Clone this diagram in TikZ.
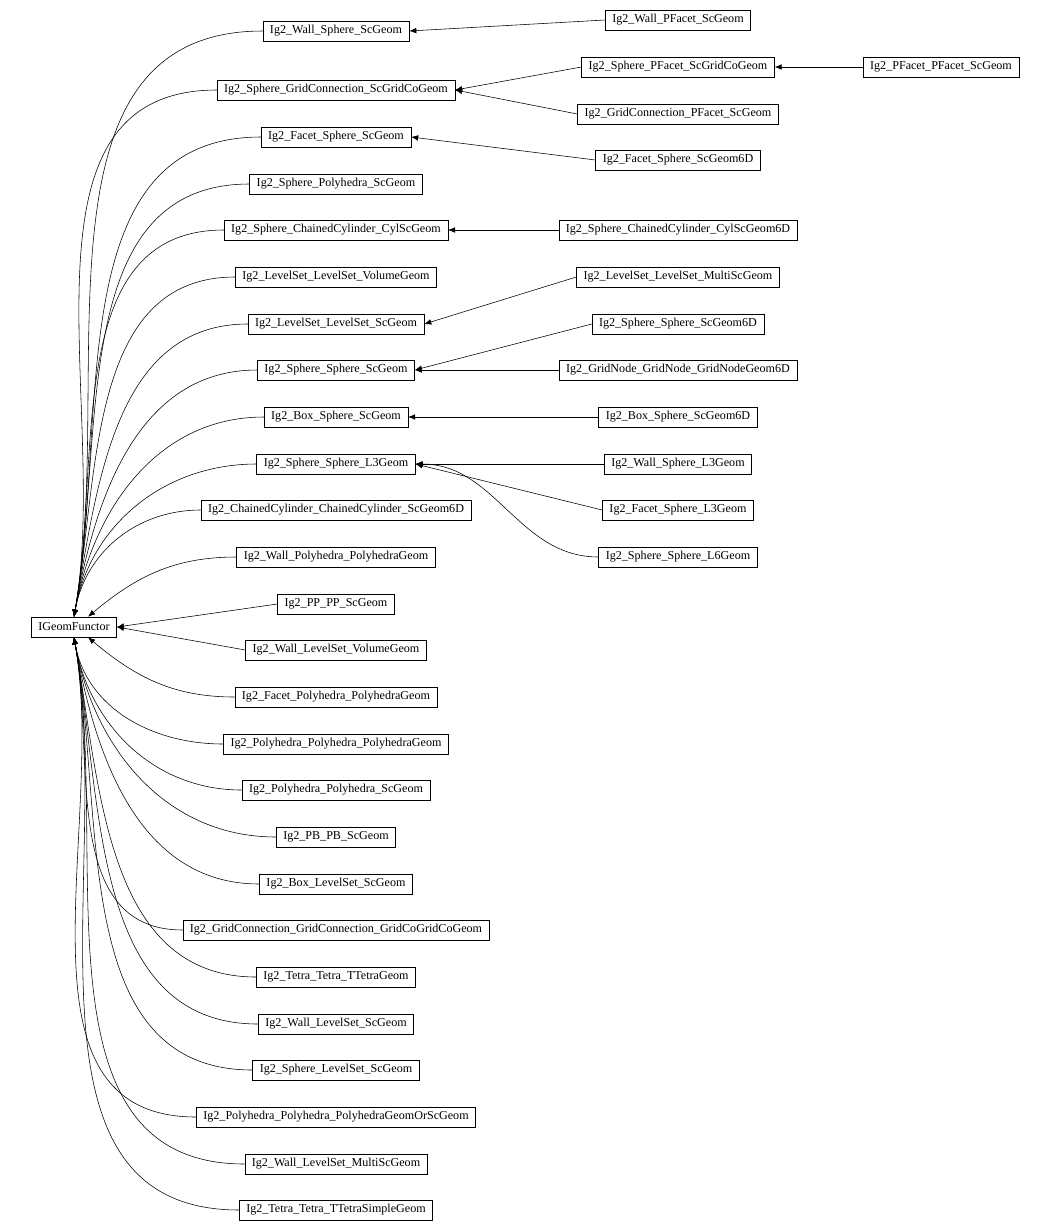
\documentclass[tikz,border=0pt]{standalone}
\usepackage{fontspec}
\setmainfont{Liberation Serif}
\usetikzlibrary{arrows.meta}
\tikzset{
    cls/.style={draw, rectangle, inner xsep=5pt, inner ysep=0pt, minimum height=0.5cm, font=\fontsize{8.6}{10}\selectfont},
    arr/.style={-{Latex[length=5pt,width=4pt]}, black}
}
\begin{document}
\begin{tikzpicture}[x=0.025cm, y=-0.025cm]
    \useasboundingbox (0,0) rectangle (1052,1232);
    \node[cls] (root) at (74,627) {IGeomFunctor};
    % first column
    \foreach \i/\y/\t in {
        1/31/Ig2\_Wall\_Sphere\_ScGeom,
        2/90/Ig2\_Sphere\_GridConnection\_ScGridCoGeom,
        3/137/Ig2\_Facet\_Sphere\_ScGeom,
        4/184/Ig2\_Sphere\_Polyhedra\_ScGeom,
        5/230/Ig2\_Sphere\_ChainedCylinder\_CylScGeom,
        6/277/Ig2\_LevelSet\_LevelSet\_VolumeGeom,
        7/324/Ig2\_LevelSet\_LevelSet\_ScGeom,
        8/370/Ig2\_Sphere\_Sphere\_ScGeom,
        9/417/Ig2\_Box\_Sphere\_ScGeom,
        10/464/Ig2\_Sphere\_Sphere\_L3Geom,
        11/510/Ig2\_ChainedCylinder\_ChainedCylinder\_ScGeom6D,
        12/557/Ig2\_Wall\_Polyhedra\_PolyhedraGeom,
        13/604/Ig2\_PP\_PP\_ScGeom,
        14/650/Ig2\_Wall\_LevelSet\_VolumeGeom,
        15/697/Ig2\_Facet\_Polyhedra\_PolyhedraGeom,
        16/744/Ig2\_Polyhedra\_Polyhedra\_PolyhedraGeom,
        17/790/Ig2\_Polyhedra\_Polyhedra\_ScGeom,
        18/837/Ig2\_PB\_PB\_ScGeom,
        19/884/Ig2\_Box\_LevelSet\_ScGeom,
        20/930/Ig2\_GridConnection\_GridConnection\_GridCoGridCoGeom,
        21/977/Ig2\_Tetra\_Tetra\_TTetraGeom,
        22/1024/Ig2\_Wall\_LevelSet\_ScGeom,
        23/1070/Ig2\_Sphere\_LevelSet\_ScGeom,
        24/1117/Ig2\_Polyhedra\_Polyhedra\_PolyhedraGeomOrScGeom,
        25/1164/Ig2\_Wall\_LevelSet\_MultiScGeom,
        26/1210/Ig2\_Tetra\_Tetra\_TTetraSimpleGeom}
        \node[cls] (c\i) at (336,\y) {\t};
    % second column
    \node[cls] (wallpf) at (678,20) {Ig2\_Wall\_PFacet\_ScGeom};
    \node[cls] (spherepf) at (678,67) {Ig2\_Sphere\_PFacet\_ScGridCoGeom};
    \node[cls] (gridpf) at (678,114) {Ig2\_GridConnection\_PFacet\_ScGeom};
    \node[cls] (facet6d) at (678,160) {Ig2\_Facet\_Sphere\_ScGeom6D};
    \node[cls] (cyl6d) at (678,230) {Ig2\_Sphere\_ChainedCylinder\_CylScGeom6D};
    \node[cls] (lsmulti) at (678,277) {Ig2\_LevelSet\_LevelSet\_MultiScGeom};
    \node[cls] (ss6d) at (678,324) {Ig2\_Sphere\_Sphere\_ScGeom6D};
    \node[cls] (gridnode) at (678,370) {Ig2\_GridNode\_GridNode\_GridNodeGeom6D};
    \node[cls] (box6d) at (678,417) {Ig2\_Box\_Sphere\_ScGeom6D};
    \node[cls] (walll3) at (678,464) {Ig2\_Wall\_Sphere\_L3Geom};
    \node[cls] (facetl3) at (678,510) {Ig2\_Facet\_Sphere\_L3Geom};
    \node[cls] (ssl6) at (678,557) {Ig2\_Sphere\_Sphere\_L6Geom};
    \node[cls] (pfpf) at (941,67) {Ig2\_PFacet\_PFacet\_ScGeom};
    % edges to root
    \foreach \i in {1,...,11}
        \draw[arr] (c\i.west) to[out=180, in=80] (root.north);
    \draw[arr] (c12.west) to[out=180, in=40] ([xshift=10pt]root.north);
    \draw[arr] (c13.west) -- (root.east);
    \draw[arr] (c14.west) -- (root.east);
    \draw[arr] (c15.west) to[out=180, in=-40] ([xshift=10pt]root.south);
    \foreach \i in {16,...,26}
        \draw[arr] (c\i.west) to[out=180, in=-80] (root.south);
    % other edges
    \draw[arr] (wallpf.west) -- (c1.east);
    \draw[arr] (spherepf.west) -- (c2.east);
    \draw[arr] (gridpf.west) -- (c2.east);
    \draw[arr] (pfpf.west) -- (spherepf.east);
    \draw[arr] (facet6d.west) -- (c3.east);
    \draw[arr] (cyl6d.west) -- (c5.east);
    \draw[arr] (lsmulti.west) -- (c7.east);
    \draw[arr] (ss6d.west) -- (c8.east);
    \draw[arr] (gridnode.west) -- (c8.east);
    \draw[arr] (box6d.west) -- (c9.east);
    \draw[arr] (walll3.west) -- (c10.east);
    \draw[arr] (facetl3.west) -- (c10.east);
    \draw[arr] (ssl6.west) to[out=180, in=0] (c10.east);
\end{tikzpicture}
\end{document}
